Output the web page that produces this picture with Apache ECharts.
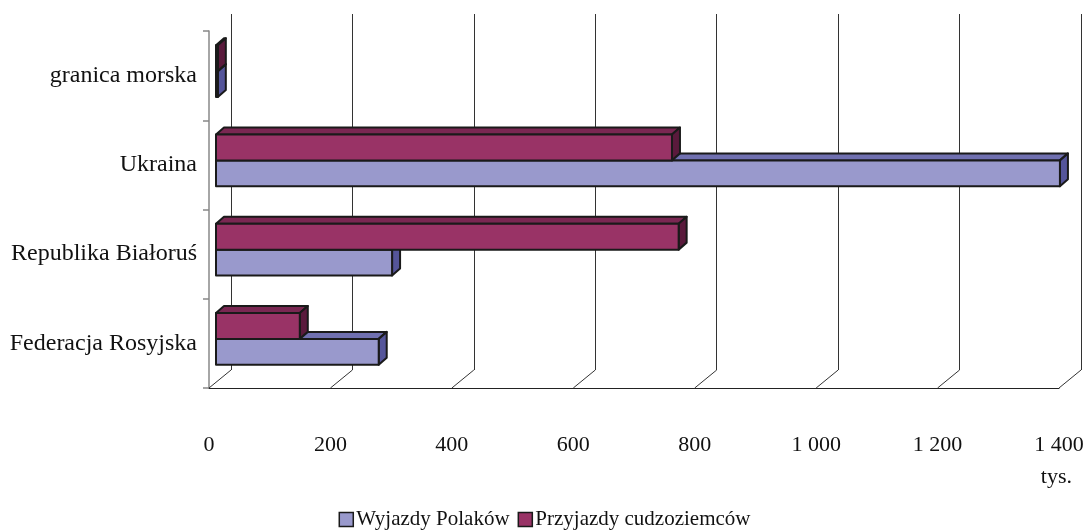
<!DOCTYPE html>
<html><head><meta charset="utf-8">
<script src="https://cdn.jsdelivr.net/npm/echarts@6/dist/echarts.min.js"></script>
<style>html,body{margin:0;padding:0;background:#fff}#c{width:1089px;height:532px}</style>
</head><body><div id="c"></div>
<script>
const categories = ['Federacja Rosyjska', 'Republika Białoruś', 'Ukraina', 'granica morska'];
const wyjazdyPolakow = [268, 290, 1390, 3];
const przyjazdyCudzoziemcow = [138, 762, 751, 3];
const seriesNames = ['Wyjazdy Polaków', 'Przyjazdy cudzoziemców'];
const xTicks = [0, 200, 400, 600, 800, 1000, 1200, 1400];
const unitLabel = 'tys.';

const FONT = '"Liberation Serif", "Times New Roman", serif';
const faceColors = ['#9999cc', '#993366'];
const topColors = ['#7070b0', '#7a2752'];
const sideColors = ['#55559a', '#5a1a3c'];

function barRenderer(sIdx) {
  return function (params, api) {
    const cat = api.value(1);
    const v = api.value(0);
    const band = api.size([0, 1])[1];
    const p0 = api.coord([0, cat]);
    const p1 = api.coord([v, cat]);
    const h = band * 0.29;
    const shiftX = 7, dx = 8, dy = 7;
    const boundary = p0[1] - 4.5;
    const y0 = sIdx === 1 ? boundary - h : boundary;
    const y1 = y0 + h;
    const x0 = p0[0] + shiftX, x1 = p1[0] + shiftX;
    const st = { stroke: '#1a1a1a', lineWidth: 2, lineJoin: 'round' };
    return {
      type: 'group',
      children: [
        { type: 'polygon', shape: { points: [[x0, y0], [x0 + dx, y0 - dy], [x1 + dx, y0 - dy], [x1, y0]] },
          style: Object.assign({ fill: topColors[sIdx] }, st) },
        { type: 'polygon', shape: { points: [[x1, y0], [x1 + dx, y0 - dy], [x1 + dx, y1 - dy], [x1, y1]] },
          style: Object.assign({ fill: sideColors[sIdx] }, st) },
        { type: 'rect', shape: { x: x0, y: y0, width: x1 - x0, height: h },
          style: Object.assign({ fill: faceColors[sIdx] }, st) }
      ]
    };
  };
}

const chart = echarts.init(document.getElementById('c'), null, { renderer: 'canvas' });
chart.setOption({
  animation: false,
  backgroundColor: '#fff',
  grid: [
    { left: 209, top: 31, width: 850, height: 357 },
    { left: 231, top: 14, width: 850, height: 356 }
  ],
  xAxis: [
    { gridIndex: 0, type: 'value', min: 0, max: 1400, interval: 200,
      axisLine: { show: true, lineStyle: { color: '#222', width: 1 } },
      axisTick: { show: false }, splitLine: { show: false },
      axisLabel: { margin: 46, color: '#111', fontFamily: FONT, fontSize: 22,
        formatter: v => v >= 1000 ? Math.floor(v / 1000) + ' ' + String(v % 1000).padStart(3, '0') : String(v) } },
    { gridIndex: 1, type: 'value', min: 0, max: 1400, interval: 200,
      axisLine: { show: false }, axisTick: { show: false }, axisLabel: { show: false },
      splitLine: { show: true, lineStyle: { color: '#333', width: 1 } } }
  ],
  yAxis: [
    { gridIndex: 0, type: 'category', data: categories,
      axisLine: { show: true, lineStyle: { color: '#888', width: 1.5 } },
      axisTick: { show: true, length: 6, lineStyle: { color: '#888', width: 1.5 } },
      axisLabel: { margin: 12, color: '#111', fontFamily: FONT, fontSize: 24 } },
    { gridIndex: 1, type: 'category', data: categories, show: false }
  ],
  legend: {
    data: seriesNames.map((n, i) => ({ name: n, icon: 'rect',
      itemStyle: { color: faceColors[i], borderColor: '#1a1a1a', borderWidth: 1.5 } })),
    top: 504, left: 'center', itemWidth: 14, itemHeight: 14, itemGap: 8,
    textStyle: { fontFamily: FONT, fontSize: 21, color: '#111', padding: [0, 0, 0, -2] },
    selectedMode: false
  },
  graphic: [
    { type: 'text', right: 17, top: 466, style: { text: unitLabel, font: '22px ' + FONT, fill: '#111' } }
  ],
  series: [
    { type: 'custom', name: '__floor', silent: true, xAxisIndex: 0, yAxisIndex: 0,
      data: xTicks.map(t => [t]),
      renderItem: function (params, api) {
        const x = api.coord([api.value(0), 0])[0];
        const yb = params.coordSys.y + params.coordSys.height;
        return { type: 'line', shape: { x1: x, y1: yb, x2: x + 22, y2: yb - 18 },
          style: { stroke: '#333', lineWidth: 1 } };
      } },
    { type: 'custom', name: seriesNames[0], xAxisIndex: 0, yAxisIndex: 0,
      itemStyle: { color: faceColors[0] },
      data: wyjazdyPolakow.map((v, i) => [v, i]),
      renderItem: barRenderer(0) },
    { type: 'custom', name: seriesNames[1], xAxisIndex: 0, yAxisIndex: 0,
      itemStyle: { color: faceColors[1] },
      data: przyjazdyCudzoziemcow.map((v, i) => [v, i]),
      renderItem: barRenderer(1) }
  ]
});
</script></body></html>
